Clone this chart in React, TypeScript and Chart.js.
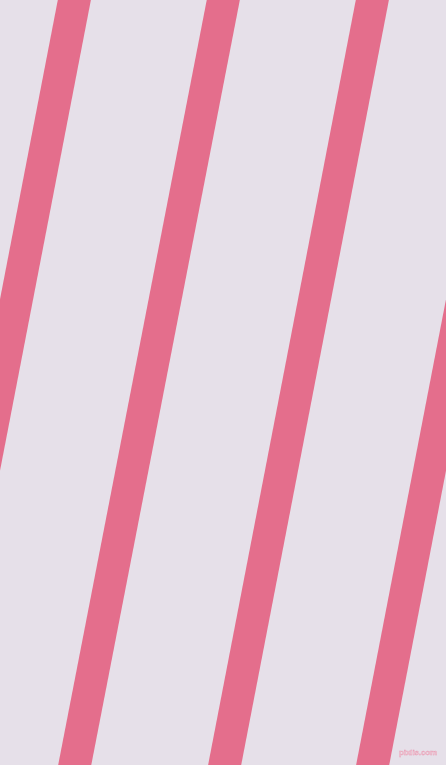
import React, { useEffect, useRef } from "react";
import { Chart, registerables } from "chart.js";

Chart.register(...registerables);

// Stripe centre lines, in picture units (x to the right, y downwards).
const stripeNames = ["stripe 1", "stripe 2", "stripe 3", "stripe 4"];
const stripeTopY = -50;
const stripeBottomY = 815;
const stripeTopX = [84, 233, 382, 530];
const stripeBottomX = [-83, 65, 215, 363];

const WIDTH = 446;
const HEIGHT = 765;
const BG = "#e6e0e9";
const STRIPE = "#e46e8c";

export default function App() {
  const ref = useRef<HTMLCanvasElement | null>(null);

  useEffect(() => {
    document.body.style.margin = "0";
    const canvas = ref.current;
    if (!canvas) return;
    const chart = new Chart(canvas, {
      type: "line",
      data: {
        datasets: stripeNames.map((name, i) => ({
          label: name,
          data: [
            { x: stripeTopX[i], y: stripeTopY },
            { x: stripeBottomX[i], y: stripeBottomY },
          ],
          borderColor: STRIPE,
          backgroundColor: STRIPE,
          borderWidth: 32.5,
          borderCapStyle: "butt" as const,
          pointRadius: 0,
          pointHoverRadius: 0,
          tension: 0,
          fill: false,
          clip: false as any,
        })),
      },
      options: {
        animation: false,
        responsive: false,
        maintainAspectRatio: false,
        layout: { padding: 0 },
        events: [],
        plugins: {
          legend: { display: false },
          tooltip: { enabled: false },
          title: { display: false },
        },
        scales: {
          x: { type: "linear", min: 0, max: WIDTH, display: false },
          y: { type: "linear", min: 0, max: HEIGHT, reverse: true, display: false },
        },
      },
    });
    return () => chart.destroy();
  }, []);

  return (
    <div
      style={{
        position: "fixed",
        left: 0,
        top: 0,
        width: WIDTH,
        height: HEIGHT,
        background: BG,
        overflow: "hidden",
      }}
    >
      <canvas
        ref={ref}
        width={WIDTH}
        height={HEIGHT}
        style={{ display: "block", width: WIDTH, height: HEIGHT }}
      />
      <span
        style={{
          position: "absolute",
          left: 399,
          top: 748,
          fontFamily: "'Liberation Sans', sans-serif",
          fontSize: 8,
          fontWeight: "bold",
          color: "#f4d3de",
          WebkitTextStroke: "0.4px #e59ab2",
          letterSpacing: "-0.1px",
          lineHeight: "10px",
          whiteSpace: "nowrap",
        }}
      >
        pixlis.com
      </span>
    </div>
  );
}
